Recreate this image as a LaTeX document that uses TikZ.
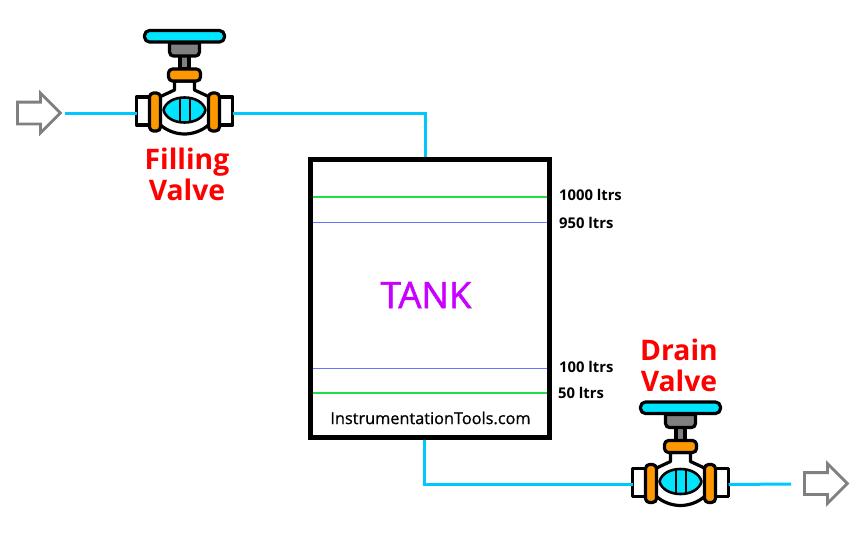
\documentclass[tikz,border=0pt]{standalone}
\usepackage{fontspec}
\setmainfont{Open Sans}
\newfontfamily\semifont[FakeBold=1.5]{Open Sans}
\newfontfamily\lightsemifont[FakeBold=0.8]{Open Sans}
\usetikzlibrary{shapes.arrows}
\definecolor{pipeblue}{HTML}{00C8FF}
\definecolor{wheelcyan}{HTML}{00E5FF}
\definecolor{flangeorange}{HTML}{FF9800}
\definecolor{hubgray}{HTML}{808080}
\definecolor{tankmagenta}{HTML}{C800FF}
\definecolor{levelgreen}{HTML}{22DD44}
\definecolor{levelblue}{HTML}{6677FF}
\tikzset{
  part/.style={draw=black, line width=3.2pt, line join=round},
  pipe/.style={draw=pipeblue, line width=3pt},
  greenlevel/.style={draw=levelgreen, line width=1.2pt},
  bluelevel/.style={draw=levelblue, line width=1pt},
  flowarrow/.style={single arrow, draw=hubgray, line width=2.8pt, fill=white, inner sep=9.5pt, outer sep=0pt, minimum height=43pt, single arrow head extend=9pt, single arrow tip angle=90, single arrow head indent=0pt},
  valvetext/.style={text=red, font=\fontsize{28.3}{31}\selectfont\bfseries, align=center},
  leveltext/.style={anchor=west, inner sep=0pt, font=\fontsize{14.8}{17}\selectfont\bfseries},
  valve/.pic={
    % body first, everything else sits on top of it
    \draw[part, fill=white] (-10,-29) -- (-10,-20) -- (-25,-13) -- (-25,14) .. controls (-18,21) and (-8,24) .. (0,24) .. controls (8,24) and (18,21) .. (25,14) -- (25,-13) -- (10,-20) -- (10,-29) -- cycle;
    \draw[part, fill=white] (-48,-13) rectangle (-35,15);
    \draw[part, fill=white] (35,-13) rectangle (48,15);
    \draw[part, fill=flangeorange, rounded corners=4pt] (-35,-17) rectangle (-24,21);
    \draw[part, fill=flangeorange, rounded corners=4pt] (24,-17) rectangle (35,21);
    \draw[part, line width=2.6pt, fill=wheelcyan] (-21,0) .. controls (-19,-8) and (-10,-12.5) .. (0,-12.5) .. controls (10,-12.5) and (19,-8) .. (21,0) .. controls (19,8) and (10,12.5) .. (0,12.5) .. controls (-10,12.5) and (-19,8) .. (-21,0) -- cycle;
    \draw[line width=2pt] (-5,-12) -- (-5,12);
    \draw[line width=2pt] (5,-12) -- (5,12);
    \draw[part, fill=hubgray] (-4.5,-55) rectangle (4.5,-41);
    \draw[part, fill=hubgray] (-15,-67) -- (-15,-58) .. controls (-15,-55.5) and (-13,-54) .. (-11,-54) -- (11,-54) .. controls (13,-54) and (15,-55.5) .. (15,-58) -- (15,-67) -- cycle;
    \draw[part, fill=flangeorange, rounded corners=4pt] (-16,-41) rectangle (16,-29);
    \draw[part, fill=wheelcyan, rounded corners=5pt] (-40,-79.5) rectangle (40,-68);
    \coordinate (-l) at (-48,3);
    \coordinate (-r) at (48,3);
  }
}

\begin{document}
\begin{tikzpicture}[x=1pt, y=-1pt]
    \useasboundingbox (0,0) rectangle (860,533);

    \node[flowarrow] (arrowin) at (33.5,113) {};
    \node[flowarrow] (arrowout) at (820.5,483.5) {};
    \coordinate (pipestart) at (65,113);
    \coordinate (pipeend) at (791,484);
    \coordinate (inlet) at (425,158);
    \coordinate (outlet) at (424.5,438);

    \pic (fillvalve) at (184.5,110) {valve};
    \pic (drainvalve) at (680.5,481.5) {valve};

    \draw[pipe] (pipestart) -- (fillvalve-l);
    \draw[pipe] (fillvalve-r) -| (inlet);
    \draw[pipe] (outlet) |- (drainvalve-l);
    \draw[pipe] (drainvalve-r) -- (pipeend);

    % levels, top to bottom
    \foreach \y/\lstyle/\lbl/\lx/\ly in {197/greenlevel/1000 ltrs/559/195, 222/bluelevel/950 ltrs/559/223, 368/bluelevel/100 ltrs/559/367, 393/greenlevel/50 ltrs/558/393}
    {
      \coordinate (lvlL\y) at (313,\y);
      \coordinate (lvlR\y) at (549,\y);
      \path[\lstyle] (lvlL\y) -- (lvlR\y);
      \node[leveltext] (lvl\y) at (\lx,\ly) {\lbl};
    }

    \node[draw=black, line width=5.4pt, minimum width=239pt, minimum height=278pt, inner sep=0pt, outer sep=0pt] (tank) at (430,298.5) {};

    \node[text=tankmagenta, font=\fontsize{36.5}{40}\selectfont\semifont] (tanklabel) at (426,295) {TANK};
    \node[font=\fontsize{16.3}{20}\selectfont\lightsemifont] (sitelabel) at (430.5,418) {InstrumentationTools.com};
    \node[valvetext] (filllabel) at (187,174) {Filling\\Valve};
    \node[valvetext] (drainlabel) at (679,365) {Drain\\Valve};
\end{tikzpicture}
\end{document}
